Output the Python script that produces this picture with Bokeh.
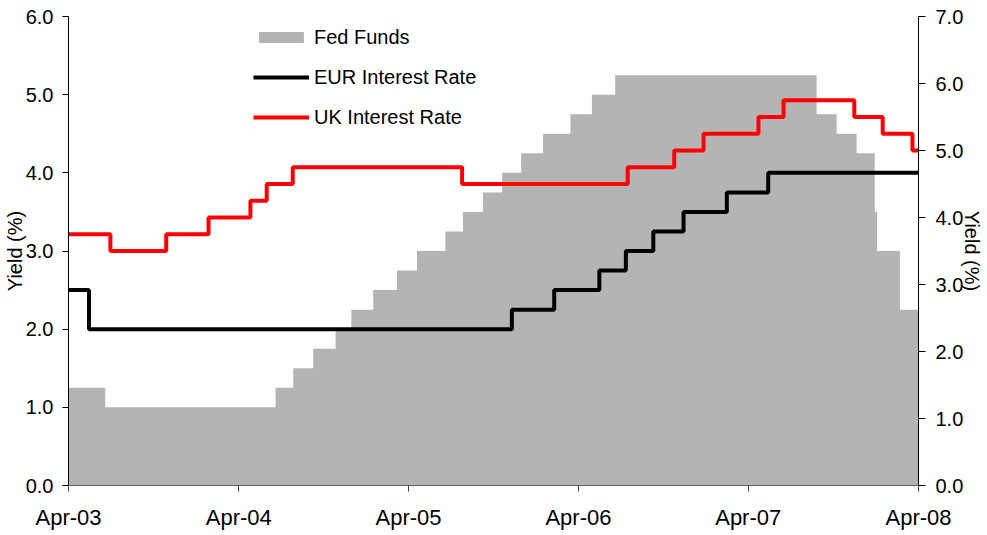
import pandas as pd
from bokeh.plotting import figure
from bokeh.models import (Range1d, LinearAxis, FixedTicker, NumeralTickFormatter,
                          DatetimeTickFormatter, Legend, LegendItem)
from bokeh.embed import file_html
from bokeh.resources import INLINE

# ---------------- data ----------------
fed_dates = ["2003-04-01", "2003-06-19", "2004-06-19", "2004-07-27", "2004-09-08",
             "2004-10-26", "2004-11-29", "2005-01-15", "2005-03-07", "2005-04-19",
             "2005-06-19", "2005-07-27", "2005-09-08", "2005-10-19", "2005-11-29",
             "2006-01-15", "2006-03-15", "2006-04-30", "2006-06-19", "2007-08-26",
             "2007-10-08", "2007-11-20", "2007-12-29", "2008-01-03", "2008-02-21"]
fed_values = [1.25, 1.00, 1.25, 1.50, 1.75, 2.00, 2.25, 2.50, 2.75, 3.00, 3.25, 3.50,
              3.75, 4.00, 4.25, 4.50, 4.75, 5.00, 5.25, 4.75, 4.50, 4.25, 3.50, 3.00, 2.25]

eur_dates = ["2003-04-01", "2003-05-15", "2005-11-09", "2006-02-08", "2006-05-16",
             "2006-07-12", "2006-09-09", "2006-11-13", "2007-02-14", "2007-05-14"]
eur_values = [2.50, 2.00, 2.25, 2.50, 2.75, 3.00, 3.25, 3.50, 3.75, 4.00]

uk_dates = ["2003-04-01", "2003-06-30", "2003-10-28", "2004-01-27", "2004-04-26",
            "2004-05-31", "2004-07-26", "2005-07-25", "2006-07-16", "2006-10-24",
            "2006-12-26", "2007-04-23", "2007-06-16", "2007-11-15", "2008-01-15",
            "2008-03-19"]
uk_values = [3.75, 3.50, 3.75, 4.00, 4.25, 4.50, 4.75, 4.50, 4.75, 5.00, 5.25, 5.50,
             5.75, 5.50, 5.25, 5.00]

x_start = "2003-04-01"
x_end = "2008-04-01"
x_tick_dates = ["2003-04-01", "2004-04-01", "2005-04-01", "2006-04-01",
                "2007-04-01", "2008-04-01"]
left_ticks = [0, 1, 2, 3, 4, 5, 6]
right_ticks = [0, 1, 2, 3, 4, 5, 6, 7]

FONT = "Liberation Sans"


def extend(dates, values):
    d = list(pd.to_datetime(dates)) + [pd.Timestamp(x_end)]
    v = list(values) + [values[-1]]
    return d, v


def ms(d):
    return pd.Timestamp(d).value / 1e6


fed_x, fed_y = extend(fed_dates, fed_values)
eur_x, eur_y = extend(eur_dates, eur_values)
uk_x, uk_y = extend(uk_dates, uk_values)

p = figure(width=986, height=532, x_axis_type="datetime",
           x_range=Range1d(pd.Timestamp(x_start), pd.Timestamp(x_end)),
           y_range=Range1d(0, 6), output_backend="svg", toolbar_location=None,
           min_border_left=68, min_border_right=68, min_border_top=16,
           min_border_bottom=45)
p.extra_y_ranges = {"uk": Range1d(0, 7)}
p.outline_line_color = None
p.xgrid.visible = False
p.ygrid.visible = False
p.background_fill_color = "white"
p.border_fill_color = "white"

fed_r = p.varea_step(x=fed_x, y1=[0] * len(fed_y), y2=fed_y, step_mode="after",
                     fill_color="#B4B4B4")
eur_r = p.step(eur_x, eur_y, mode="after", line_color="black", line_width=4)
uk_r = p.step(uk_x, uk_y, mode="after", line_color="#FF0000", line_width=4,
              y_range_name="uk")

# ---- axes ----
xa = p.xaxis[0]
xa.ticker = FixedTicker(ticks=[ms(d) for d in x_tick_dates])
xa.formatter = DatetimeTickFormatter(years="%b-%y", months="%b-%y", days="%b-%y",
                                     hours="%b-%y")
xa.axis_line_color = "#606060"
xa.major_tick_line_color = "#404040"
xa.major_tick_out = 6
xa.major_tick_in = 0
xa.minor_tick_line_color = None
xa.major_label_standoff = 13
xa.major_label_text_font = FONT
xa.major_label_text_font_size = "22px"
xa.major_label_text_color = "black"

ya = p.yaxis[0]
ya.ticker = FixedTicker(ticks=left_ticks)
ya.formatter = NumeralTickFormatter(format="0.0")
ya.axis_line_color = "black"
ya.major_tick_line_color = "black"
ya.major_tick_out = 6
ya.major_tick_in = 0
ya.minor_tick_line_color = None
ya.major_label_standoff = 9
ya.major_label_text_font = FONT
ya.major_label_text_font_size = "20px"
ya.major_label_text_color = "black"
ya.axis_label = "Yield (%)"
ya.axis_label_text_font = FONT
ya.axis_label_text_font_size = "20px"
ya.axis_label_text_font_style = "normal"
ya.axis_label_text_color = "black"
ya.axis_label_standoff = -3

ra = LinearAxis(y_range_name="uk", ticker=FixedTicker(ticks=right_ticks),
                formatter=NumeralTickFormatter(format="0.0"))
ra.axis_line_color = "black"
ra.major_tick_line_color = "black"
ra.major_tick_out = 7
ra.major_tick_in = 0
ra.minor_tick_line_color = None
ra.major_label_standoff = 10
ra.major_label_text_font = FONT
ra.major_label_text_font_size = "20px"
ra.major_label_text_color = "black"
ra.axis_label = "Yield (%)"
ra.axis_label_text_font = FONT
ra.axis_label_text_font_size = "20px"
ra.axis_label_text_font_style = "normal"
ra.axis_label_text_color = "black"
ra.axis_label_standoff = -5
p.add_layout(ra, "right")

# ---- legend ----
legend = Legend(items=[LegendItem(label="Fed Funds", renderers=[fed_r]),
                       LegendItem(label="EUR Interest Rate", renderers=[eur_r]),
                       LegendItem(label="UK Interest Rate", renderers=[uk_r])],
                location=(185, 356), orientation="vertical",
                glyph_width=56, glyph_height=14, label_standoff=5,
                label_height=24, spacing=16, padding=0, margin=0,
                label_text_font=FONT, label_text_font_size="20px",
                label_text_color="black",
                border_line_color=None, background_fill_alpha=0)
p.add_layout(legend, "center")

open("out.html", "w").write(file_html(p, INLINE))
